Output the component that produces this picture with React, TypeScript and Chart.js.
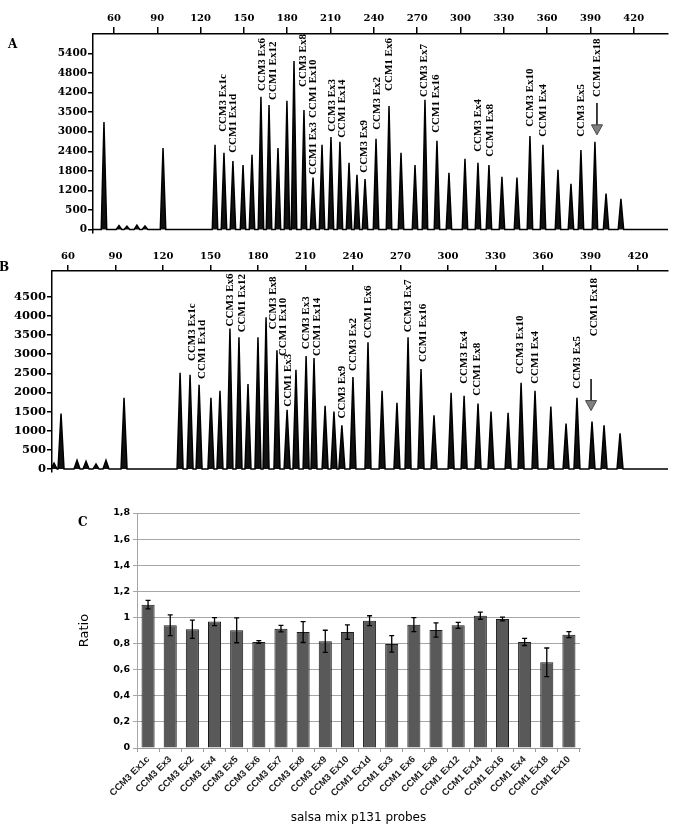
import React, { useEffect, useRef } from "react";
import { Chart, registerables } from "chart.js";

Chart.register(...registerables);

// ---------- shared x ticks (fragment size) ----------
const sizeTicks = [60, 90, 120, 150, 180, 210, 240, 270, 300, 330, 360, 390, 420];

// ---------- Panel A ----------
const peakA_x = [53.1, 63.5, 69, 75.9, 81.5, 94, 130, 136.2, 142.4, 149.4, 155.6, 161.8, 167.4, 173.6, 179.8, 184.7, 191.6, 197.9, 204.1, 210.3, 216.5, 222.8, 228.3, 233.9, 241.5, 250.5, 258.8, 268.5, 275.4, 283.7, 292, 303.1, 312.1, 319.7, 328.7, 339.1, 348.1, 357.1, 367.5, 376.5, 383.4, 393.1, 400.8, 411.1];
const peakA_h = [3300, 120, 100, 130, 110, 2500, 2600, 2350, 2100, 1980, 2290, 4070, 3820, 2500, 3950, 5170, 3670, 1590, 2600, 2840, 2690, 2050, 1680, 1550, 2780, 3790, 2350, 1980, 3980, 2720, 1740, 2170, 2050, 1980, 1620, 1590, 2870, 2600, 1830, 1400, 2440, 2690, 1100, 940];
const yTickValsA = [0, 600, 1200, 1800, 2400, 3000, 3600, 4200, 4800, 5400];
const yTickLabelsA = ["0", "500", "1200", "1800", "2400", "3000", "3500", "4200", "4800", "5400"];
const probeA_text = ["CCM3 Ex1c", "CCM1 Ex1d", "CCM3 Ex6", "CCM1 Ex12", "CCM3 Ex8", "CCM1 Ex10", "CCM1 Ex3", "CCM3 Ex3", "CCM1 Ex14", "CCM3 Ex9", "CCM3 Ex2", "CCM1 Ex6", "CCM3 Ex7", "CCM1 Ex16", "CCM3 Ex4", "CCM1 Ex8", "CCM3 Ex10", "CCM1 Ex4", "CCM3 Ex5", "CCM1 Ex18"];
const probeA_x = [135.6, 142.4, 162.5, 170.1, 190.9, 197.8, 197.8, 211, 217.9, 233.2, 242.2, 250.5, 274.7, 283, 312.1, 320.4, 348.1, 357.1, 383.4, 394.5];
const probeA_y = [2996, 2352, 4253, 3977, 4375, 3425, 1678, 2996, 2812, 1739, 3057, 4253, 4069, 2965, 2383, 2230, 3149, 2843, 2843, 4069];
const arrowA = [394.5, 3885, 2904];

// ---------- Panel B ----------
const peakB_x = [51.2, 55.6, 65.7, 71.4, 77.7, 84, 95.4, 130.8, 137.1, 142.8, 150.3, 156, 162.3, 168, 173.7, 180, 185.1, 192, 198.4, 204, 210.4, 215.4, 222.4, 228, 233, 240, 249.5, 258.4, 267.8, 274.8, 283, 291.2, 302, 310.2, 319, 327.2, 338, 346.2, 355, 365, 374.6, 381.5, 391, 398.6, 408.7];
const peakB_h = [155, 1450, 230, 200, 130, 230, 1860, 2510, 2460, 2200, 1860, 2040, 3670, 3440, 2220, 3440, 3960, 3100, 1550, 2590, 2950, 2900, 1650, 1500, 1140, 2400, 3310, 2040, 1730, 3440, 2610, 1400, 1990, 1910, 1710, 1500, 1470, 2250, 2040, 1630, 1190, 1860, 1240, 1140, 930];
const yTickValsB = [0, 500, 1000, 1500, 2000, 2500, 3000, 3500, 4000, 4500];
const yTickLabelsB = ["0", "500", "1000", "1500", "2000", "2500", "3000", "3500", "4000", "4500"];
const probeB_text = probeA_text;
const probeB_x = [138.3, 144.7, 162.3, 169.9, 189.5, 195.8, 199, 210.4, 217.3, 233.1, 240, 249.5, 274.8, 284.3, 310.2, 318.4, 345.5, 355, 381.6, 392.3];
const probeB_y = [2819, 2353, 3724, 3569, 3646, 2948, 1629, 3129, 2948, 1319, 2560, 3414, 3569, 2793, 2224, 1914, 2483, 2224, 2095, 3465];
const arrowB = [390.4, 2353, 1526];

// ---------- Panel C ----------
const categoriesC = ["CCM3 Ex1c", "CCM3 Ex3", "CCM3 Ex2", "CCM3 Ex4", "CCM3 Ex5", "CCM3 Ex6", "CCM3 Ex7", "CCM3 Ex8", "CCM3 Ex9", "CCM3 Ex10", "CCM1 Ex1d", "CCM1 Ex3", "CCM1 Ex6", "CCM1 Ex8", "CCM1 Ex12", "CCM1 Ex14", "CCM1 Ex16", "CCM1 Ex4", "CCM1 Ex18", "CCM1 Ex10"];
const ratioC = [1.098, 0.94, 0.909, 0.968, 0.901, 0.812, 0.914, 0.888, 0.817, 0.888, 0.975, 0.797, 0.945, 0.904, 0.94, 1.013, 0.988, 0.812, 0.656, 0.868];
const errC = [0.032, 0.08, 0.07, 0.03, 0.095, 0.01, 0.025, 0.08, 0.085, 0.055, 0.038, 0.063, 0.054, 0.055, 0.023, 0.027, 0.015, 0.027, 0.11, 0.023];
const yTickValsC = [0, 0.2, 0.4, 0.6, 0.8, 1, 1.2, 1.4, 1.6, 1.8];
const yTickLabelsC = ["0", "0,2", "0,4", "0,6", "0,8", "1", "1,2", "1,4", "1,6", "1,8"];

const HW = 1.9;
function peakPoints(xs: number[], hs: number[], lo: number, hi: number) {
  const pts: { x: number; y: number }[] = [{ x: lo, y: 0 }];
  xs.forEach((x, i) => {
    pts.push({ x: x - HW, y: 0 }, { x, y: hs[i] }, { x: x + HW, y: 0 });
  });
  pts.push({ x: hi, y: 0 });
  return pts;
}

const SERIF = '"Liberation Serif", "Times New Roman", serif';

function probePlugin(texts: string[], xs: number[], ys: number[], arrow: number[]) {
  return {
    id: "probes",
    afterDatasetsDraw(chart: any) {
      const { ctx } = chart;
      const x = chart.scales.x;
      const y = chart.scales.y;
      ctx.save();
      ctx.fillStyle = "#000";
      ctx.font = "bold 11px " + SERIF;
      ctx.textAlign = "left";
      ctx.textBaseline = "middle";
      texts.forEach((t, i) => {
        ctx.save();
        ctx.translate(x.getPixelForValue(xs[i]), y.getPixelForValue(ys[i]));
        ctx.rotate(-Math.PI / 2);
        ctx.fillText(t, 0, 0);
        ctx.restore();
      });
      const ax = x.getPixelForValue(arrow[0]);
      const y1 = y.getPixelForValue(arrow[1]);
      const y2 = y.getPixelForValue(arrow[2]);
      ctx.strokeStyle = "#000";
      ctx.lineWidth = 1.5;
      ctx.beginPath();
      ctx.moveTo(ax, y1);
      ctx.lineTo(ax, y2 - 9);
      ctx.stroke();
      ctx.beginPath();
      ctx.moveTo(ax - 5.5, y2 - 10);
      ctx.lineTo(ax + 5.5, y2 - 10);
      ctx.lineTo(ax, y2);
      ctx.closePath();
      ctx.fillStyle = "#808080";
      ctx.fill();
      ctx.strokeStyle = "#444";
      ctx.lineWidth = 1;
      ctx.stroke();
      ctx.restore();
    },
  };
}

function electroConfig(o: any): any {
  return {
    type: "line",
    data: {
      datasets: [
        {
          data: peakPoints(o.xs, o.hs, o.xMin, o.xMax),
          borderColor: "#000",
          backgroundColor: "#111",
          borderWidth: 1.5,
          pointRadius: 0,
          tension: 0,
          fill: "origin",
        },
      ],
    },
    options: {
      animation: false,
      responsive: false,
      events: [],
      layout: { padding: { left: 0, right: o.padR, top: 0, bottom: o.padB } },
      plugins: { legend: { display: false }, tooltip: { enabled: false } },
      scales: {
        x: {
          type: "linear",
          position: "top",
          min: o.xMin,
          max: o.xMax,
          afterBuildTicks: (s: any) => {
            s.ticks = sizeTicks.map((v) => ({ value: v }));
          },
          afterFit: (s: any) => {
            s.height = o.topH;
          },
          ticks: {
            autoSkip: false,
            maxRotation: 0,
            color: "#000",
            padding: 3,
            font: { family: '"DejaVu Serif", serif', size: 10, weight: "bold" },
            callback: (v: any) => String(v),
          },
          grid: { drawOnChartArea: false, drawTicks: true, tickLength: o.tickX, color: "#000", lineWidth: 1.5 },
          border: { display: true, color: "#000", width: 1.5 },
        },
        y: {
          type: "linear",
          position: "left",
          min: o.yMin,
          max: o.yMax,
          afterBuildTicks: (s: any) => {
            s.ticks = o.yVals.map((v: number) => ({ value: v }));
          },
          afterFit: (s: any) => {
            s.width = o.leftW;
          },
          ticks: {
            autoSkip: false,
            color: "#000",
            padding: 1,
            font: { family: '"DejaVu Serif", serif', size: o.yFont, weight: "bold" },
            callback: (_v: any, i: number) => o.yLabels[i],
          },
          grid: { drawOnChartArea: false, drawTicks: true, tickLength: 5, color: "#000", lineWidth: 1.5 },
          border: { display: true, color: "#000", width: 1.5 },
        },
      },
    },
    plugins: [probePlugin(o.texts, o.px, o.py, o.arrow)],
  };
}

const errPlugin = {
  id: "errbars",
  afterDatasetsDraw(chart: any) {
    const { ctx } = chart;
    const y = chart.scales.y;
    const meta = chart.getDatasetMeta(0);
    ctx.save();
    ctx.strokeStyle = "#000";
    ctx.lineWidth = 1.3;
    meta.data.forEach((bar: any, i: number) => {
      const cx = bar.x;
      const t = y.getPixelForValue(ratioC[i] + errC[i]);
      const b = y.getPixelForValue(ratioC[i] - errC[i]);
      ctx.beginPath();
      ctx.moveTo(cx, t);
      ctx.lineTo(cx, b);
      ctx.moveTo(cx - 2.5, t);
      ctx.lineTo(cx + 2.5, t);
      ctx.moveTo(cx - 2.5, b);
      ctx.lineTo(cx + 2.5, b);
      ctx.stroke();
    });
    ctx.restore();
  },
};

function barConfig(): any {
  return {
    type: "bar",
    data: {
      labels: categoriesC,
      datasets: [
        {
          data: ratioC,
          backgroundColor: "#595959",
          borderColor: "#1a1a1a",
          borderWidth: 1,
          categoryPercentage: 1,
          barPercentage: 0.59,
        },
      ],
    },
    options: {
      animation: false,
      responsive: false,
      events: [],
      layout: { padding: { left: 70, right: 95, top: 33, bottom: 4 } },
      plugins: { legend: { display: false }, tooltip: { enabled: false } },
      scales: {
        x: {
          afterFit: (s: any) => {
            s.height = 80;
          },
          ticks: {
            autoSkip: false,
            maxRotation: 45,
            minRotation: 45,
            padding: 2,
            color: "#1a1a1a",
            font: { family: '"Liberation Sans", Arial, sans-serif', size: 9.5, weight: "bold" },
          },
          grid: { drawOnChartArea: false, drawTicks: true, tickLength: 4, color: "#999", offset: true },
          border: { display: true, color: "#999" },
          title: {
            display: true,
            text: "salsa mix p131 probes",
            color: "#000",
            font: { family: '"DejaVu Sans", sans-serif', size: 12 },
            padding: { top: 0, bottom: 3 },
          },
        },
        y: {
          min: 0,
          max: 1.8,
          afterBuildTicks: (s: any) => {
            s.ticks = yTickValsC.map((v) => ({ value: v }));
          },
          afterFit: (s: any) => {
            s.width = 67;
          },
          ticks: {
            autoSkip: false,
            padding: 3,
            color: "#000",
            font: { family: '"DejaVu Sans", sans-serif', size: 9.5, weight: "bold" },
            callback: (_v: any, i: number) => yTickLabelsC[i],
          },
          grid: { color: "#a6a6a6", tickLength: 4 },
          border: { display: true, color: "#a6a6a6" },
          title: {
            display: true,
            text: "Ratio",
            color: "#000",
            font: { family: '"DejaVu Sans", sans-serif', size: 13 },
            padding: { top: 7, bottom: 0 },
          },
        },
      },
    },
    plugins: [errPlugin],
  };
}

function ChartCanvas({ make, top, height }: { make: () => any; top: number; height: number }) {
  const ref = useRef<HTMLCanvasElement | null>(null);
  useEffect(() => {
    const c = new Chart(ref.current as HTMLCanvasElement, make());
    return () => c.destroy();
  }, []);
  return (
    <canvas
      ref={ref}
      width={675}
      height={height}
      style={{ position: "absolute", left: 0, top, width: 675, height }}
    />
  );
}

const letterStyle: React.CSSProperties = {
  position: "absolute",
  fontFamily: '"DejaVu Serif", serif',
  fontWeight: "bold",
  fontSize: 12,
  lineHeight: "12px",
  color: "#000",
};

export default function App() {
  return (
    <div style={{ position: "absolute", left: 0, top: 0, width: 675, height: 832, background: "#fff", overflow: "hidden" }}>
      <ChartCanvas
        top={0}
        height={240}
        make={() =>
          electroConfig({
            xs: peakA_x,
            hs: peakA_h,
            xMin: 45.5,
            xMax: 443.7,
            yMin: -100,
            yMax: 6000,
            yVals: yTickValsA,
            yLabels: yTickLabelsA,
            leftW: 93,
            topH: 34,
            padR: 7,
            padB: 7,
            tickX: 7,
            yFont: 10.5,
            texts: probeA_text,
            px: probeA_x,
            py: probeA_y,
            arrow: arrowA,
          })
        }
      />
      <ChartCanvas
        top={240}
        height={240}
        make={() =>
          electroConfig({
            xs: peakB_x,
            hs: peakB_h,
            xMin: 49.9,
            xMax: 439,
            yMin: -80,
            yMax: 5170,
            yVals: yTickValsB,
            yLabels: yTickLabelsB,
            leftW: 52,
            topH: 31,
            padR: 7,
            padB: 6,
            tickX: 6,
            yFont: 11.5,
            texts: probeB_text,
            px: probeB_x,
            py: probeB_y,
            arrow: arrowB,
          })
        }
      />
      <ChartCanvas top={480} height={352} make={barConfig} />
      <div style={{ ...letterStyle, left: 8, top: 38 }}>A</div>
      <div style={{ ...letterStyle, left: -1, top: 261 }}>B</div>
      <div style={{ ...letterStyle, left: 78, top: 516 }}>C</div>
    </div>
  );
}
